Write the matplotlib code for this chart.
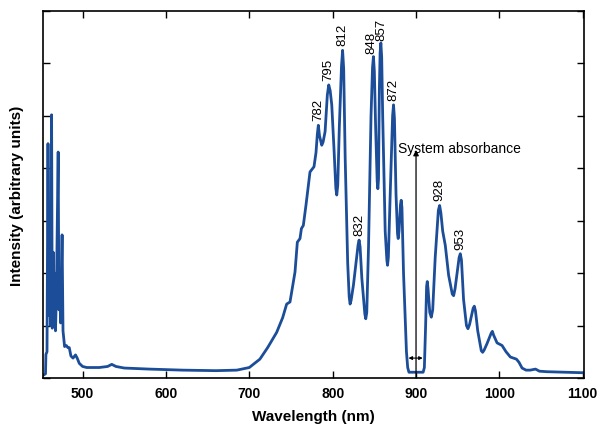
import matplotlib
matplotlib.use("Agg")
import matplotlib.pyplot as plt

plt.rcParams['font.family'] = ['Liberation Sans', 'DejaVu Sans']

wavelength = [452.5, 455.5, 456.0, 457.3, 458.5, 459.3, 460.3, 461.5, 462.8, 463.6,
              464.7, 465.6, 466.6, 467.5, 468.6, 470.7, 471.6, 472.5, 473.6, 475.4,
              476.5, 478.4, 480.5, 482.3, 484.0, 486.0, 488.5, 491.5, 493.5, 496.0,
              500.0, 505.0, 520.0, 530.0, 535.0, 540.0, 550.0, 580.0, 620.0, 660.0,
              685.0, 700.0, 712.7, 722.0, 732.8, 740.0, 744.8, 748.8, 754.8, 757.6,
              760.8, 762.5, 764.8, 768.0, 772.8, 777.6, 780.0, 781.6, 782.8, 784.2,
              786.9, 788.5, 790.9, 793.6, 795.3, 797.0, 798.9, 801.5, 803.8, 804.9,
              806.1, 808.0, 810.6, 811.9, 813.2, 815.0, 818.0, 819.8, 820.9, 822.1,
              824.9, 828.0, 830.5, 831.7, 832.9, 835.0, 838.6, 839.7, 840.9, 843.0,
              846.0, 847.8, 848.9, 850.0, 851.5, 853.4, 854.2, 855.0, 856.0, 856.9,
              857.8, 858.8, 860.0, 863.0, 865.0, 865.8, 866.8, 869.0, 871.9, 873.0,
              874.1, 876.0, 877.8, 878.6, 879.6, 881.3, 882.2, 883.1, 885.0, 888.5,
              890.0, 891.5, 908.5, 910.0, 911.5, 912.7, 913.5, 914.4, 916.5, 918.3,
              920.0, 923.0, 926.8, 928.3, 929.8, 932.0, 935.1, 939.1, 943.5, 945.1,
              946.8, 951.7, 953.1, 954.5, 957.0, 960.5, 962.3, 964.2, 968.5, 969.9,
              971.3, 974.0, 978.3, 979.9, 981.6, 985.0, 990.3, 991.6, 993.0, 997.2,
              1003.2, 1008.0, 1013.2, 1020.4, 1023.5, 1027.2, 1032.0, 1037.0, 1043.3,
              1048.0, 1057.0, 1080.0, 1101.0]
intensity = [0.05, 0.08, 0.45, 0.5, 4.47, 1.2, 2.0, 1.0, 5.02, 0.95,
             2.4, 1.1, 2.0, 0.9, 1.6, 4.31, 1.3, 2.0, 1.05, 2.73,
             0.9, 0.6, 0.62, 0.58, 0.58, 0.42, 0.38, 0.44, 0.38, 0.28,
             0.22, 0.2, 0.2, 0.22, 0.26, 0.22, 0.19, 0.17, 0.15, 0.14,
             0.15, 0.2, 0.36, 0.58, 0.87, 1.15, 1.41, 1.45, 2.02, 2.59,
             2.66, 2.85, 2.91, 3.3, 3.93, 4.03, 4.3, 4.65, 4.82, 4.62,
             4.44, 4.5, 4.70, 5.4, 5.59, 5.48, 5.21, 4.4, 3.62, 3.49,
             3.68, 4.8, 5.95, 6.25, 5.9, 4.2, 2.2, 1.55, 1.41, 1.48,
             1.77, 2.2, 2.54, 2.63, 2.5, 1.9, 1.22, 1.13, 1.25, 2.5,
             5.0, 5.92, 6.13, 5.85, 4.8, 3.75, 3.61, 3.8, 5.5, 6.2,
             6.39, 6.12, 5.0, 2.8, 2.25, 2.15, 2.3, 3.5, 5.0, 5.21,
             4.95, 3.5, 2.75, 2.66, 2.8, 3.3, 3.39, 3.25, 2.0, 0.5,
             0.2, 0.11, 0.11, 0.2, 1.0, 1.75, 1.84, 1.7, 1.25, 1.16,
             1.3, 2.3, 3.2, 3.29, 3.15, 2.8, 2.53, 1.96, 1.6, 1.57,
             1.7, 2.3, 2.37, 2.25, 1.5, 1.0, 0.94, 1.02, 1.33, 1.37,
             1.28, 0.9, 0.52, 0.49, 0.53, 0.65, 0.86, 0.89, 0.82, 0.67,
             0.62, 0.5, 0.40, 0.36, 0.3, 0.19, 0.15, 0.15, 0.17,
             0.13, 0.12, 0.11, 0.10]

peak_labels = ["782", "795", "812", "832", "848", "857", "872", "928", "953"]
label_x = [782.8, 795.3, 811.9, 831.7, 846.9, 858.9, 873.0, 928.3, 953.1]
label_y = [4.92, 5.69, 6.35, 2.73, 6.2, 6.45, 5.3, 3.39, 2.47]

x_ticks = [500, 600, 700, 800, 900, 1000, 1100]
y_ticks = [0, 1, 2, 3, 4, 5, 6, 7]

absorb_x = 900
absorb_top = 4.35
band_start, band_end, band_y = 891, 908, 0.38

fig = plt.figure(figsize=(5.98, 4.27), dpi=100)
ax = fig.add_axes([43/598, 1-379/427, (584-43)/598, (379-12)/427])

line_color = '#1c4d98'
ax.plot(wavelength, intensity, color=line_color, lw=2.0,
        solid_joinstyle='round', solid_capstyle='round')

for lab, px, py in zip(peak_labels, label_x, label_y):
    ax.text(px, py, lab, rotation=90, ha='center', va='bottom', fontsize=9.5)

# System absorbance arrow
ax.annotate('', xy=(absorb_x, absorb_top), xytext=(absorb_x, 0),
            arrowprops=dict(arrowstyle='-|>', color='black', lw=0.9,
                            mutation_scale=8, shrinkA=0, shrinkB=0))
ax.annotate('', xy=(band_start, band_y), xytext=(band_end, band_y),
            arrowprops=dict(arrowstyle='<|-|>', color='black', lw=0.8,
                            mutation_scale=5, shrinkA=0, shrinkB=0))
ax.text(878.5, 4.38, 'System absorbance', ha='left', va='center', fontsize=10)

ax.set_xlim(452.5, 1101.5)
ax.set_ylim(0, 7)
ax.set_xticks(x_ticks)
ax.set_yticks(y_ticks)
ax.set_yticklabels([])
ax.tick_params(direction='in', length=5, width=1.0, top=True, right=True,
               labelsize=10, pad=6)
for lbl in ax.get_xticklabels():
    lbl.set_fontweight('bold')
for s in ax.spines.values():
    s.set_linewidth(1.2)

ax.set_xlabel('Wavelength (nm)', fontsize=11, fontweight='bold', labelpad=6)
ax.set_ylabel('Intensity (arbitrary units)', fontsize=11, fontweight='bold', labelpad=8)

fig.savefig('out.png', dpi=100)
